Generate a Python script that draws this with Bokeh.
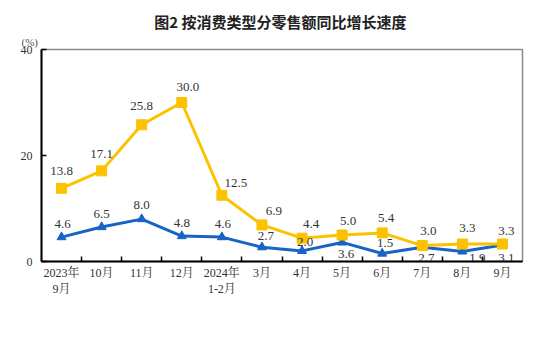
from bokeh.plotting import figure
from bokeh.models import (ColumnDataSource, Range1d, FixedTicker, Title, Legend, LegendItem)
from bokeh.core.properties import value
from bokeh.embed import file_html
from bokeh.resources import INLINE

categories = ["2023年\n9月", "10月", "11月", "12月", "2024年\n1-2月", "3月",
              "4月", "5月", "6月", "7月", "8月", "9月"]
goods = [4.6, 6.5, 8.0, 4.8, 4.6, 2.7, 2.0, 3.6, 1.5, 2.7, 1.9, 3.1]
catering = [13.8, 17.1, 25.8, 30.0, 12.5, 6.9, 4.4, 5.0, 5.4, 3.0, 3.3, 3.3]
y_ticks = [0, 20, 40]

# label offsets in pixels (screen)
goods_dx = [1, 0, 0, 0, 1, 4, 3, 4, 3, 4, 15, 4]
goods_dy = [-13, -13, -14, -13, -13, -11, -9, 12, -11, 11, 7, 13]
cat_dx = [0, 0, 0, 6, 14, 12, 9, 6, 4, 6, 5, 4]
cat_dy = [-17, -17, -19, -16, -12, -14, -14, -14, -15, -15, -16, -13]

BLUE = "#1763c6"
YELLOW = "#fcc200"
SERIF = "'Liberation Serif', 'Noto Serif CJK SC', 'Noto Sans CJK SC', serif"

idx = list(range(len(categories)))
src = ColumnDataSource(dict(x=idx, goods=goods, catering=catering,
                            gl=[f"{v:.1f}" for v in goods],
                            cl=[f"{v:.1f}" for v in catering],
                            gdx=goods_dx, gdy=goods_dy, cdx=cat_dx, cdy=cat_dy))

p = figure(frame_width=481, frame_height=212, output_backend="svg", toolbar_location=None,
           x_range=Range1d(-0.5, len(categories) - 0.5), y_range=Range1d(0, 40),
           min_border_left=41, min_border_right=25, min_border_top=49,
           min_border_bottom=2)
p.background_fill_color = "white"
p.border_fill_color = "white"
p.outline_line_color = "#8a8a8a"
p.outline_line_width = 1.5
p.xgrid.visible = False
p.ygrid.visible = False

# chart title (outer row) and unit label (nearest the frame)
p.title.text = "图2  按消费类型分零售额同比增长速度"
p.title.align = "center"
p.title.offset = 11
p.title.standoff = 0
p.title.text_font = "Noto Sans CJK SC"
p.title.text_font_size = "15px"
p.title.text_font_style = "bold"
p.title.text_color = "#222222"
unit = Title(text="(%)", align="left", offset=-20, standoff=4,
             text_font=SERIF, text_font_size="11px", text_font_style="normal",
             text_color="#555555")
p.add_layout(unit, "above")

# x axis
p.xaxis.ticker = FixedTicker(ticks=idx, minor_ticks=[i + 0.5 for i in idx[:-1]])
p.xaxis.major_label_overrides = {i: c for i, c in zip(idx, categories)}
p.xaxis.major_tick_in = 0
p.xaxis.major_tick_out = 0
p.xaxis.minor_tick_in = 5
p.xaxis.minor_tick_out = 0
p.xaxis.minor_tick_line_color = "black"
p.xaxis.minor_tick_line_width = 1.5
p.xaxis.axis_line_color = "black"
p.xaxis.axis_line_width = 2
p.xaxis.major_label_standoff = 4
p.xaxis.axis_label_standoff = 0
p.xaxis.major_label_text_font = SERIF
p.xaxis.major_label_text_font_size = "12px"
p.xaxis.major_label_text_color = "#333333"

# y axis
p.yaxis.ticker = FixedTicker(ticks=y_ticks)
p.yaxis.major_tick_in = 5
p.yaxis.major_tick_out = 0
p.yaxis.minor_tick_in = 0
p.yaxis.minor_tick_out = 0
p.yaxis.major_tick_line_width = 1.5
p.yaxis.axis_line_color = "black"
p.yaxis.axis_line_width = 2
p.yaxis.major_label_standoff = 9
p.yaxis.major_label_text_font = SERIF
p.yaxis.major_label_text_font_size = "12px"
p.yaxis.major_label_text_color = "#333333"

# series
l1 = p.line("x", "goods", source=src, line_color=BLUE, line_width=3)
s1 = p.scatter("x", "goods", source=src, marker="triangle", size=9,
               fill_color=BLUE, line_color=BLUE)
l2 = p.line("x", "catering", source=src, line_color=YELLOW, line_width=3)
s2 = p.scatter("x", "catering", source=src, marker="square", size=10,
               fill_color=YELLOW, line_color=YELLOW)

p.text("x", "goods", text="gl", source=src, x_offset="gdx", y_offset="gdy",
       text_align="center", text_baseline="middle", text_font=value(SERIF),
       text_font_size="13px", text_color="#333333")
p.text("x", "catering", text="cl", source=src, x_offset="cdx", y_offset="cdy",
       text_align="center", text_baseline="middle", text_font=value(SERIF),
       text_font_size="13px", text_color="#333333")

legend = Legend(items=[LegendItem(label="商品零售额", renderers=[l1, s1]),
                       LegendItem(label="餐饮收入", renderers=[l2, s2])],
                location="center", orientation="horizontal",
                glyph_width=28, glyph_height=18, label_standoff=5, spacing=10,
                padding=0, margin=2, border_line_color=None,
                background_fill_alpha=0,
                label_text_font=SERIF, label_text_font_size="13px",
                label_text_color="#333333")
p.add_layout(legend, "below")

open("out.html", "w").write(file_html(p, INLINE))
